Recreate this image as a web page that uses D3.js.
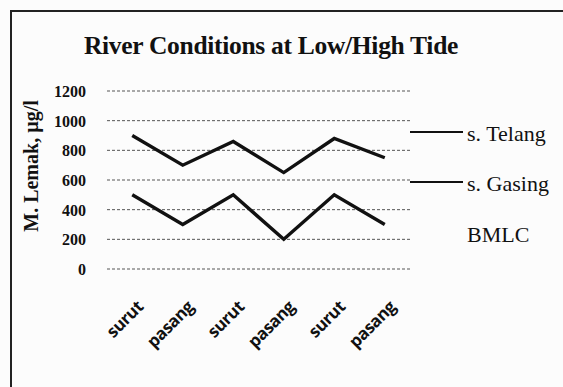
<!DOCTYPE html>
<html><head><meta charset="utf-8">
<script src="https://cdn.jsdelivr.net/npm/d3@7"></script>
<style>body{margin:0;background:#fff}svg{display:block}</style>
</head><body>
<script>
const categories = ["surut","pasang","surut","pasang","surut","pasang"];
const telang = [900, 700, 860, 650, 880, 750];
const gasing = [500, 300, 500, 200, 500, 300];
const yTicks = [0, 200, 400, 600, 800, 1000, 1200];
const seriesNames = ["s. Telang", "s. Gasing", "BMLC"];

const W = 563, H = 387;
const svg = d3.select("body").append("svg").attr("width", W).attr("height", H);
svg.append("rect").attr("width", W).attr("height", H).attr("fill", "#fcfcfc");
// frame
svg.append("path").attr("d", `M11,${H} V11 H${W}`).attr("fill","none").attr("stroke","#222").attr("stroke-width",2);

const x = d3.scaleBand().domain(d3.range(categories.length)).range([107, 410]);
const y = d3.scaleLinear().domain([0, 1200]).range([269, 91]);

// title
svg.append("text").attr("x", 271).attr("y", 54).attr("text-anchor","middle")
  .attr("font-family","Liberation Serif, Times New Roman, serif").attr("font-weight","bold")
  .attr("font-size", 25.5).attr("letter-spacing", -0.3).attr("fill","#111").text("River Conditions at Low/High Tide");

// gridlines
svg.append("g").selectAll("line").data(yTicks).join("line")
  .attr("x1", 107).attr("x2", 410).attr("y1", d => y(d)).attr("y2", d => y(d))
  .attr("stroke", "#555").attr("stroke-width", 1).attr("stroke-dasharray", "3,2");

// y axis ticks
const yAxis = d3.axisLeft(y).tickValues(yTicks).tickFormat(d3.format("d")).tickSize(0).tickPadding(0);
const gy = svg.append("g").attr("transform", "translate(86,0)").call(yAxis);
gy.select(".domain").remove();
gy.selectAll("text").attr("font-family","Liberation Serif, serif").attr("font-weight","bold")
  .attr("font-size", 16).attr("fill","#111").attr("dy","0.35em");

// y label
svg.append("text").attr("transform", "translate(38,166) rotate(-90)").attr("text-anchor","middle")
  .attr("font-family","Liberation Serif, serif").attr("font-weight","bold").attr("font-size", 20)
  .attr("fill","#111").text("M. Lemak, µg/l");

// x labels
const xAxis = d3.axisBottom(x).tickFormat(i => categories[i]).tickSize(0).tickPadding(0);
const gx = svg.append("g").attr("transform", "translate(0,308)").call(xAxis);
gx.select(".domain").remove();
gx.selectAll("text").attr("text-anchor","end").attr("dy", 0)
  .attr("transform", "translate(12,0) rotate(-45)")
  .attr("font-family","Open Sans, sans-serif").attr("font-weight","bold")
  .attr("font-size", 17).attr("letter-spacing", -0.5).attr("fill","#111");

// lines
const line = d3.line().x((d, i) => x(i) + x.bandwidth() / 2).y(d => y(d));
[telang, gasing].forEach(s => {
  svg.append("path").datum(s).attr("d", line).attr("fill","none")
    .attr("stroke","#111").attr("stroke-width", 3.4).attr("stroke-linejoin","miter");
});

// legend
const legY = [132, 182, 233];
seriesNames.forEach((n, i) => {
  if (i < 2) svg.append("line").attr("x1", 410).attr("x2", 463).attr("y1", legY[i]).attr("y2", legY[i])
    .attr("stroke","#111").attr("stroke-width", 2.2);
  svg.append("text").attr("x", 467).attr("y", legY[i] + 9).attr("font-family","Liberation Serif, serif")
    .attr("font-size", 22).attr("fill","#111").text(n);
});
</script>
</body></html>
